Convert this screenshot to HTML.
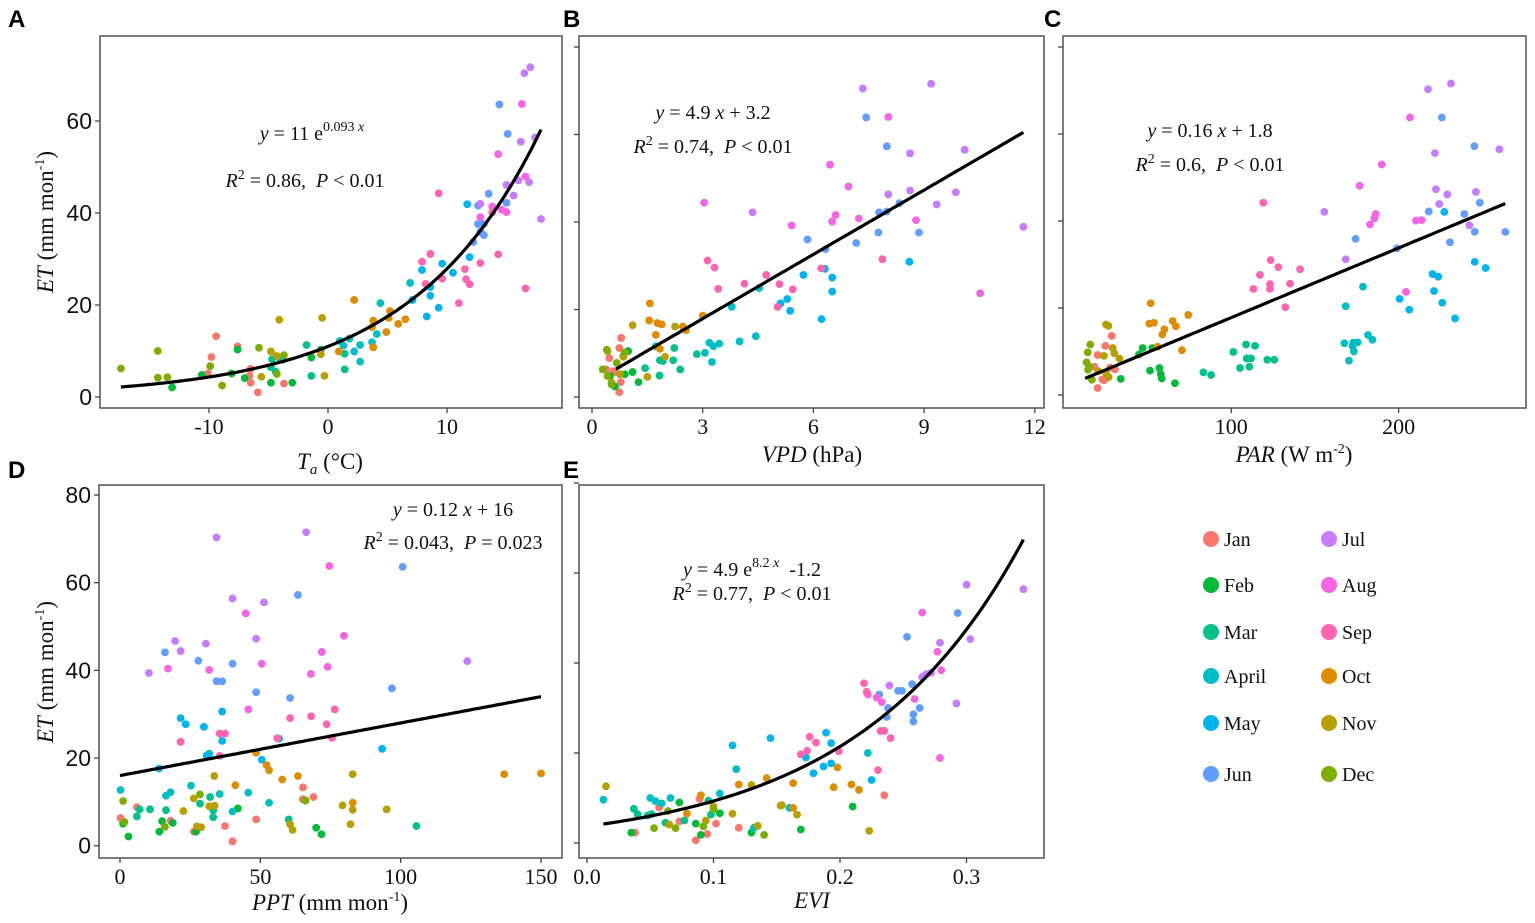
<!DOCTYPE html>
<html><head><meta charset="utf-8"><style>
body{margin:0;background:#fff;width:1535px;height:923px;overflow:hidden}
svg{display:block}
.ser{font-family:"Liberation Serif",serif}
.sans{font-family:"Liberation Sans",sans-serif}
</style></head><body>
<svg id="fig" width="1535" height="923" viewBox="0 0 1535 923" xmlns="http://www.w3.org/2000/svg"></svg>
<script>
const months=["Jan","Feb","Mar","April","May","Jun","Jul","Aug","Sep","Oct","Nov","Dec"];
const colors=["#F8766D","#00BA38","#00C08B","#00BFC4","#00B4F0","#619CFF","#C77CFF","#F564E3","#FF64B0","#DE8C00","#B79F00","#7CAE00"];
// Panel A: Ta vs ET  (per month [x,y] pairs)
const dataA=[
[[-9.4,13.2],[-9.8,8.7],[-10.1,5.1],[-7.6,11],[-6.5,6.1],[-6.6,4.6],[-6.5,3.1],[-5.9,1],[-4.8,6.5],[-3.7,2.9]],
[[-13.1,2.1],[-10.6,4.8],[-8.1,5.1],[-7.6,10.3],[-7,4.1],[-4.8,3.1],[-3,3.1],[-1.4,8.6],[-0.6,10.3]],
[[-4.7,8.2],[-4,8.2],[-4.8,6.5],[-4.4,5.5],[-1.8,11.3],[-1.4,4.6],[1.4,9.4],[1.4,6]],
[[-3.8,8.1],[1,12.2],[1.8,12.7],[1.3,11.2],[2.2,9.9],[2.7,7.7],[2.7,11.3],[3.7,11.9],[4.1,13.7],[4.4,20.4],[6.9,24.8]],
[[7.1,21.1],[7.9,27.6],[8.3,17.5],[8.6,22],[8.6,23.9],[9.3,19.4],[9.6,29],[10.5,27],[11.7,41.9],[11.9,30.4]],
[[12.2,33.7],[12.6,37.6],[12.8,35.9],[13.1,37.6],[13.1,35.2],[13.5,44.2],[14.4,63.6],[15.1,57.2],[15,42.2],[12.6,41.6]],
[[12.8,42],[15,46.1],[15.6,43.8],[16,47.1],[16.2,55.5],[16.9,46.7],[17.4,56.4],[17.9,38.7],[16.5,70.4],[17,71.7]],
[[12.8,39.1],[13.8,41.4],[14.6,40.7],[15,40.2],[14.3,52.8],[16.6,47.9],[16.3,63.7]],
[[7.9,29.4],[8.6,31.1],[8.2,24.6],[9.3,44.3],[9.6,25.7],[11,20.4],[11.5,27.8],[11.6,25.6],[11.9,24.5],[12.8,29.1],[14.3,31],[16.6,23.6],[13.8,40.1]],
[[0.9,9.9],[2.2,21.1],[3.8,10.8],[3.7,15.2],[3.8,16.6],[4.9,14.1],[5.1,17.2],[5.2,18.7],[5.9,15.9],[6.5,16.9]],
[[-4.1,16.8],[-4.8,9.9],[-4.3,8.9],[-5.6,4.4],[-0.5,17.2],[-0.6,9.3],[-0.3,4.6]],
[[-17.4,6.2],[-14.3,10],[-14.3,4.2],[-13.5,4.3],[-9.9,6.7],[-5.8,10.7],[-4.3,5],[-3.7,9.1],[-8.9,2.5]]];
// Panel B: VPD vs ET
const dataB=[
[[0.79,13.5],[0.74,11.2],[0.47,8.9],[0.38,6.3],[0.58,5.9],[0.78,3.4],[0.74,1.1],[0.62,5.7]],
[[1.26,3.4],[1.1,5.7],[0.89,5.2],[0.98,10.5],[0.85,9.4],[0.62,2.4],[0.49,4.8]],
[[2.23,11.2],[2.84,9.8],[2.2,8.4],[2.39,6.3],[1.83,4.9],[1.44,6.6],[1.84,8.4],[1.92,8.2]],
[[4.53,24.9],[3.79,20.6],[4.44,13.9],[4,12.7],[3.18,12.4],[3.29,11.6],[3.45,12.2],[3.06,10.1],[3.25,8],[1.73,11.6]],
[[5.73,27.9],[6.31,29.3],[6.51,27.3],[6.51,24.1],[6.22,17.8],[5.11,21.4],[5.29,22.4],[5.37,19.7],[8.6,30.9]],
[[7.43,63.9],[7.99,57.3],[8.33,44.3],[7.99,42.4],[7.76,37.6],[8.86,37.6],[7.16,35.2],[6.33,33.8],[5.84,36],[7.78,42.2]],
[[7.34,70.5],[9.19,71.6],[8.62,55.7],[10.1,56.5],[8.03,46.3],[8.62,47.2],[9.86,46.8],[9.34,44],[4.35,42.2],[11.69,38.9]],
[[8.03,64],[6.45,53.1],[6.95,48.1],[6.6,41.6],[6.51,40.1],[7.23,40.8],[5.41,39.2],[8.78,40.4],[10.52,23.7],[3.04,44.4]],
[[3.13,31.2],[3.32,29.6],[3.42,24.7],[4.13,25.9],[4.72,27.9],[5.08,25.8],[5.44,24.6],[5.03,20.6],[6.21,29.4],[7.87,31.5]],
[[1.57,21.4],[1.55,17.5],[1.77,16.9],[1.89,16.6],[2.46,16.1],[2.55,15.3],[3,18.6],[1.73,14.2],[1.84,11]],
[[1.1,16.4],[2.25,16.1],[1.98,9.2],[1.5,4.6],[0.76,5.2],[0.53,3.3],[0.85,9.2],[0.42,10.5]],
[[0.4,10.8],[0.29,6.3],[0.42,4.8],[0.53,2.9],[0.89,10.2],[0.67,7.8]]];
// Panel C: PAR vs ET
const dataC=[
[[28.5,13.6],[24.7,11.3],[20.1,9.2],[18.1,6.5],[27.5,6.3],[30.5,5.9],[22.9,3.6],[23.9,3.4],[20.1,1.6]],
[[47,10.8],[52.8,10.8],[44.8,9.3],[33.9,3.7],[51.4,5.6],[57,6.2],[57.8,4.8],[58.4,3.8],[66.3,2.7]],
[[101.2,9.9],[108.8,11.6],[114.2,11.3],[109.2,8.4],[111.8,8.4],[110.8,6.5],[105.2,6.2],[121.5,8.1],[125.7,8.1],[87.9,4.6],[83.3,5.2]],
[[178.7,24.9],[168.4,20.4],[181.7,13.8],[184.3,12.7],[167.6,11.9],[172.9,12],[175.5,12.1],[172.5,11.2],[173.3,10],[170.3,7.9]],
[[227.3,42.1],[245.5,30.6],[252,29.2],[220.3,27.8],[223.7,27.2],[221.2,23.9],[226.1,21.2],[233.7,17.6],[200.6,22.1],[206.4,19.6]],
[[225.9,63.8],[245.3,57.2],[248.5,44.2],[239.3,41.6],[245.5,37.5],[263.8,37.5],[230.7,35.1],[199,33.7],[174.3,35.9],[218,42.2]],
[[217.6,70.3],[231.3,71.6],[221.7,55.6],[222.3,47.3],[229.1,46.1],[224.3,43.9],[246.2,46.7],[242.3,39],[260.2,56.5],[155.6,42.1],[168.4,31.2]],
[[206.8,63.8],[189.9,53],[176.7,48.1],[186.3,41.6],[185.5,40.6],[182.9,39.2],[210.4,40.1],[213.8,40.2],[204.4,23.7]],
[[119.1,44.2],[117.1,27.6],[123.5,31],[128.1,29.4],[141.1,28.9],[135.1,25.6],[123.1,25.5],[123.1,24.4],[113.2,24.4],[132.3,20.2]],
[[51.8,21.1],[51,16.4],[53.8,16.6],[60,15.1],[58.8,13.9],[64.9,17],[66.9,15.8],[74.3,18.4],[56,11.1],[70.5,10.3]],
[[25.1,16.2],[26.5,15.9],[29.1,10.8],[30.1,9.6],[23.9,9],[33.1,8.4],[25.1,5.1],[26.7,4.1],[20.5,5.5]],
[[15.7,11.6],[14.2,9.8],[13.5,7.5],[15.1,6.5],[14.4,5.8],[16.7,3.5]]];
// Panel D: PPT vs ET
const dataD=[
[[0.2,6.3],[6,8.8],[18,5.7],[26.3,3.2],[37.4,4.5],[40.1,1],[48.5,6],[65.2,13.3],[68.9,11.1],[65.1,10.6]],
[[1.1,5],[3,2.1],[14,3.2],[15,5.6],[18.8,5.2],[27.1,3.2],[42,8.5],[66.1,10.3],[69.9,4.1],[71.8,2.6]],
[[7,8.3],[10.7,8.3],[16.4,8.1],[28.5,9.6],[32.1,11.1],[33.2,8.1],[33.2,6.5],[60.1,6],[105.6,4.5],[6,6.7]],
[[0.2,12.7],[18,12.2],[16.4,11.4],[25.3,13.7],[31.8,21],[30.9,20.6],[35.5,11.8],[45.7,12.1],[53.1,9.8],[56.7,24.4],[40.1,7.8]],
[[13.9,17.6],[21.6,29.1],[23.4,27.7],[29.9,27.1],[36.4,30.6],[36.4,23.9],[50.5,19.6],[93.4,22.1],[30.9,20.5]],
[[16,44.1],[27.9,42.2],[40.1,41.5],[34.4,37.5],[36.4,37.5],[48.5,35],[60.6,33.7],[63.4,57.2],[100.7,63.6],[96.9,35.9]],
[[34.4,70.3],[66.3,71.5],[40.1,56.4],[51.3,55.5],[19.6,46.7],[30.6,46.1],[48.5,47.2],[21.6,44.4],[10.3,39.4],[123.7,42.1]],
[[74.6,63.8],[44.8,53],[31.8,40.1],[50.5,41.5],[79.8,47.9],[68,39.2],[74,40.8],[71.9,44.2],[17.1,40.4],[45.7,31.1]],
[[21.6,23.7],[35.5,25.6],[37.4,25.6],[35.5,20.5],[56,24.5],[60.6,29.1],[68.1,29.5],[73.6,27.7],[76.5,31.1],[75.5,24.6]],
[[48.5,21.2],[52.2,18.4],[53.1,17.2],[41.1,13.8],[57.8,15.1],[63.4,15.9],[82.9,9.8],[136.9,16.3],[150,16.5]],
[[33.6,15.9],[31.8,9],[33.7,9.1],[26.3,10.8],[27.4,4.4],[22.6,7.9],[28.9,4.2],[60.6,4.9],[61.5,3.6],[79.3,9.2],[82.9,16.3],[82.9,8.2],[82.1,4.9],[95,8.3]],
[[1.1,10.2],[1.6,5.4],[16,4.3],[28.5,11.7],[66.1,10.3]]];
// Panel E: EVI vs ET
const dataE=[
[[0.038,2.3],[0.057,7.9],[0.089,9.8],[0.086,0.6],[0.095,2],[0.102,4.3],[0.12,3.4],[0.073,4.8],[0.235,10.6]],
[[0.035,2.3],[0.073,9],[0.086,4.3],[0.09,1.8],[0.105,6.6],[0.13,2.3],[0.169,3],[0.21,8.1]],
[[0.037,7.6],[0.04,6.4],[0.048,6.1],[0.051,6.4],[0.062,4.5],[0.077,5],[0.096,9.4],[0.098,6.3]],
[[0.013,9.6],[0.05,10],[0.054,9.3],[0.059,8.8],[0.066,10],[0.105,11],[0.118,16.4],[0.222,20],[0.16,7.8],[0.132,3.4]],
[[0.115,21.7],[0.145,23.3],[0.189,24.5],[0.193,22.2],[0.193,17.7],[0.187,17],[0.179,15.5],[0.173,19],[0.225,14]],
[[0.231,33],[0.238,30],[0.237,28],[0.246,33.8],[0.249,33.8],[0.253,45.8],[0.257,35.3],[0.258,28.6],[0.258,27],[0.263,30],[0.293,51.1]],
[[0.239,35],[0.265,36.9],[0.268,37.5],[0.272,37.8],[0.279,44.5],[0.292,31],[0.3,57.4],[0.303,45.3],[0.345,56.4]],
[[0.265,51.2],[0.277,42.5],[0.28,38.4],[0.259,32],[0.279,18.9],[0.222,33],[0.229,32.3],[0.233,31.3]],
[[0.219,35.5],[0.221,33.6],[0.232,24.9],[0.235,24.9],[0.24,23.3],[0.23,16.2],[0.176,23.6],[0.181,22.3],[0.174,20.5],[0.169,19.7],[0.199,20.4]],
[[0.09,10.6],[0.12,13],[0.142,14.4],[0.163,13.3],[0.163,7.8],[0.153,8.3],[0.195,12.4],[0.198,16.8],[0.209,13],[0.215,11.8],[0.079,6.5]],
[[0.015,12.6],[0.065,4.1],[0.094,5],[0.1,8.1],[0.115,6.5],[0.13,12.9],[0.135,3.8],[0.166,6.3],[0.223,2.7],[0.154,8.4]],
[[0.053,3.3],[0.064,7.1],[0.07,3.3],[0.092,3.7],[0.1,7.5],[0.14,1.8]]];
const ticksA=[-10,0,10], ticksB=[0,3,6,9,12], ticksC=[100,200], ticksD=[0,50,100,150], ticksE=[0,0.1,0.2,0.3];
const yTicksA=[0,20,40,60], yTicksB=[0,20,40,60,80], yTicksD=[0,20,40,60,80];
const ticksElabels=["0.0","0.1","0.2","0.3"];
const fitA=[11,0.093], fitB=[4.9,3.2], fitC=[0.16,1.8], fitD=[0.12,16], fitE=[4.9,7.65,-1.2];
const rangeA=[-17.4,17.9], rangeB=[0.65,11.69], rangeC=[12.6,263.8], rangeD=[0,150], rangeE=[0.013,0.345];

const NS="http://www.w3.org/2000/svg";
const svg=document.getElementById('fig');
function mk(tag,attrs,parent,text){const e=document.createElementNS(NS,tag);for(const k in attrs)e.setAttribute(k,attrs[k]);if(text!==undefined)e.textContent=text;(parent||svg).appendChild(e);return e;}
function lin(d0,d1,r0,r1){return v=>r0+(v-d0)*(r1-r0)/(d1-d0);}

function panel(id,box,sx,sy,xt,xl,yt,showY,data,fn,rng){
  const g=mk('g',{});
  
  
  const [L,T,R,B]=box;
  const fr=mk('rect',{x:L,y:T,width:R-L,height:B-T,fill:'#fff',stroke:'#444','stroke-width':1.4},g);
  
  
  xt.forEach((v,i)=>{
    const x=sx(v);
    mk('line',{x1:x,y1:B,x2:x,y2:B+5,stroke:'#444','stroke-width':1.3},g);
    const t=mk('text',{x:x,y:B+26,'text-anchor':'middle','font-size':22,class:'ser',fill:'#111'},g,xl?xl[i]:String(v));
    
    
  });
  yt.forEach(v=>{
    const y=sy(v);
    mk('line',{x1:L-5,y1:y,x2:L,y2:y,stroke:'#444','stroke-width':1.3},g);
    if(showY){const t=mk('text',{x:L-8,y:y+8,'text-anchor':'end','font-size':23,class:'sans',fill:'#111'},g,String(v));
      
      }
  });
  data.forEach((pts,m)=>pts.forEach(p=>{
    const c=mk('circle',{cx:sx(p[0]),cy:sy(p[1]),r:3.9,fill:colors[m]},g);
    
    
  }));
  let d='';
  for(let i=0;i<=120;i++){const x=rng[0]+(rng[1]-rng[0])*i/120;d+=(i?'L':'M')+sx(x).toFixed(1)+','+sy(fn(x)).toFixed(1);}
  const fl=mk('path',{d:d,fill:'none',stroke:'#000','stroke-width':3.2},g);
  
  
  return g;
}
panel('a',[100,36,562,408],lin(0,10,328,447),lin(0,20,397,305),ticksA,null,yTicksA,true,dataA,x=>fitA[0]*Math.exp(fitA[1]*x),rangeA);
panel('b',[579,36,1044,408],lin(0,12,592,1034.8),lin(0,80,397,47),ticksB,null,yTicksB,false,dataB,x=>fitB[0]*x+fitB[1],rangeB);
panel('c',[1063,36,1526,408],lin(0,100,1064,1231.3),lin(0,60,395,134),ticksC,null,yTicksB,false,dataC,x=>fitC[0]*x+fitC[1],rangeC);
panel('d',[99,485,562,858],lin(0,150,120,541),lin(0,80,845.7,495),ticksD,null,yTicksD,true,dataD,x=>fitD[0]*x+fitD[1],rangeD);
panel('e',[579,485,1044,858],lin(0,0.3,587,966.5),lin(0,60,843,573),ticksE,ticksElabels,yTicksD,false,dataE,x=>fitE[0]*Math.exp(fitE[1]*x)+fitE[2],rangeE);

// panel letters
[['A',8,27],['B',563,27],['C',1044,27],['D',8,478],['E',563,478]].forEach(l=>{
  const t=mk('text',{x:l[1],y:l[2],'font-size':24,'font-weight':'bold',class:'sans',fill:'#000'},svg,l[0]);
  
  
});
function rich(x,y,html,name,size,anchor){
  const t=mk('text',{x:x,y:y,'font-size':size||20,class:'ser',fill:'#111','text-anchor':anchor||'middle'});
  t.innerHTML=html;
  
  
}
const sp='&#160;&#160;';
// annotations
rich(312,140,'<tspan font-style="italic">y</tspan> = 11 e<tspan dy="-9" font-size="14">0.093 <tspan font-style="italic">x</tspan></tspan>','equation-a');
rich(305,187,'<tspan font-style="italic">R</tspan><tspan dy="-8" font-size="14">2</tspan><tspan dy="8"> = 0.86,'+sp+'</tspan><tspan font-style="italic">P</tspan> &lt; 0.01','r2-a');
rich(713,119,'<tspan font-style="italic">y</tspan> = 4.9 <tspan font-style="italic">x</tspan> + 3.2','equation-b');
rich(713,153,'<tspan font-style="italic">R</tspan><tspan dy="-8" font-size="14">2</tspan><tspan dy="8"> = 0.74,'+sp+'</tspan><tspan font-style="italic">P</tspan> &lt; 0.01','r2-b');
rich(1210,137,'<tspan font-style="italic">y</tspan> = 0.16 <tspan font-style="italic">x</tspan> + 1.8','equation-c');
rich(1210,171,'<tspan font-style="italic">R</tspan><tspan dy="-8" font-size="14">2</tspan><tspan dy="8"> = 0.6,'+sp+'</tspan><tspan font-style="italic">P</tspan> &lt; 0.01','r2-c');
rich(453,516,'<tspan font-style="italic">y</tspan> = 0.12 <tspan font-style="italic">x</tspan> + 16','equation-d');
rich(453,549,'<tspan font-style="italic">R</tspan><tspan dy="-8" font-size="14">2</tspan><tspan dy="8"> = 0.043,'+sp+'</tspan><tspan font-style="italic">P</tspan> = 0.023','r2-d');
rich(752,576,'<tspan font-style="italic">y</tspan> = 4.9 e<tspan dy="-9" font-size="14">8.2 <tspan font-style="italic">x</tspan></tspan><tspan dy="9">'+sp+'-1.2</tspan>','equation-e');
rich(752,600,'<tspan font-style="italic">R</tspan><tspan dy="-8" font-size="14">2</tspan><tspan dy="8"> = 0.77,'+sp+'</tspan><tspan font-style="italic">P</tspan> &lt; 0.01','r2-e');
// axis titles
rich(330,469,'<tspan font-style="italic">T</tspan><tspan font-style="italic" font-size="15" dy="5">a</tspan><tspan dy="-5"> (°C)</tspan>','x-axis-title-a',23);
rich(812,462,'<tspan font-style="italic">VPD</tspan> (hPa)','x-axis-title-b',23);
rich(1294,462,'<tspan font-style="italic">PAR</tspan> (W m<tspan dy="-9" font-size="14">-2</tspan><tspan dy="9">)</tspan>','x-axis-title-c',23);
rich(330,910,'<tspan font-style="italic">PPT</tspan> (mm mon<tspan dy="-9" font-size="14">-1</tspan><tspan dy="9">)</tspan>','x-axis-title-d',23);
rich(812,908,'<tspan font-style="italic">EVI</tspan>','x-axis-title-e',23);
[[222,'y-axis-title-top'],[672,'y-axis-title-bottom']].forEach(a=>{
  const t=mk('text',{x:0,y:0,'font-size':23,class:'ser',fill:'#111','text-anchor':'middle',transform:'translate(53,'+a[0]+') rotate(-90)'});
  t.innerHTML='<tspan font-style="italic">ET</tspan> (mm mon<tspan dy="-9" font-size="14">-1</tspan><tspan dy="9">)</tspan>';
  
  
});
// legend
const lg=mk('g',{});


const legY=[539,585,632,676,723,774];
months.forEach((m,i)=>{
  const col=i<6?0:1, row=i%6;
  const cx=col?1329:1211, cy=legY[row];
  const e=mk('g',{},lg);
  
  
  mk('circle',{cx:cx,cy:cy,r:8,fill:colors[i]},e);
  mk('text',{x:cx+13,y:cy+7,'font-size':20,class:'ser',fill:'#111'},e,m);
});
</script>
</body></html>
